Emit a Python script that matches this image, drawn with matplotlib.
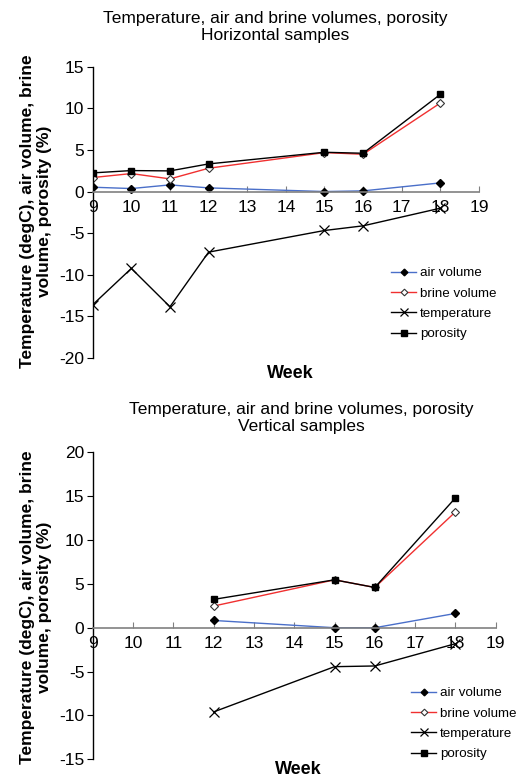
import matplotlib
matplotlib.use("Agg")
import matplotlib.pyplot as plt

plt.rcParams['font.family'] = ['Liberation Sans', 'DejaVu Sans']
plt.rcParams['axes.unicode_minus'] = False

# Horizontal samples
weeks_h = [9, 10, 11, 12, 15, 16, 18]
air_h = [0.52, 0.36, 0.8, 0.44, 0.0, 0.08, 1.04]
brine_h = [1.68, 2.16, 1.52, 2.8, 4.68, 4.48, 10.64]
temp_h = [-13.6, -9.24, -13.84, -7.28, -4.68, -4.12, -2.0]
poro_h = [2.24, 2.52, 2.48, 3.32, 4.72, 4.6, 11.68]

# Vertical samples
weeks_v = [12, 15, 16, 18]
air_v = [0.83, 0.0, 0.0, 1.63]
brine_v = [2.47, 5.46, 4.59, 13.2]
temp_v = [-9.6, -4.44, -4.36, -1.82]
poro_v = [3.23, 5.46, 4.59, 14.8]

xticks = list(range(9, 20))
yticks_h = [-20, -15, -10, -5, 0, 5, 10, 15]
yticks_v = [-15, -10, -5, 0, 5, 10, 15, 20]

title_l1 = "Temperature, air and brine volumes, porosity"
ylabel = "Temperature (degC), air volume, brine\nvolume, porosity (%)"

W, H = 521, 778
fig = plt.figure(figsize=(W / 100, H / 100), dpi=100)


def add_ax(x0, x1, ytop, ybot):
    return fig.add_axes([x0 / W, 1 - ybot / H, (x1 - x0) / W, (ybot - ytop) / H])


def draw(ax, weeks, air, brine, temp, poro, yticks, ylim):
    ax.plot(weeks, air, color='#4a6fc9', lw=1.0, marker='D', ms=4,
            mfc='black', mec='black', label='air volume')
    ax.plot(weeks, brine, color='#f03030', lw=1.0, marker='D', ms=4,
            mfc='white', mec='#333333', mew=0.8, label='brine volume')
    ax.plot(weeks, temp, color='black', lw=1.0, marker='x', ms=6.5, mew=0.9,
            label='temperature')
    ax.plot(weeks, poro, color='black', lw=1.0, marker='s', ms=5,
            mfc='black', label='porosity')
    ax.set_xlim(9, 19)
    ax.set_ylim(*ylim)
    ax.set_xticks(xticks)
    ax.set_yticks(yticks)
    ax.spines['top'].set_visible(False)
    ax.spines['right'].set_visible(False)
    ax.spines['bottom'].set_position(('data', 0))
    ax.spines['bottom'].set_color('#808080')
    ax.spines['bottom'].set_linewidth(1.2)
    ax.spines['left'].set_linewidth(1.0)
    ax.tick_params(axis='x', direction='in', length=4, color='#808080',
                   labelsize=12.5, pad=6)
    ax.tick_params(axis='y', direction='out', length=4, labelsize=12.5, pad=2)
    ax.patch.set_alpha(0)


leg_kw = dict(bbox_transform=fig.transFigure, frameon=False, fontsize=9.6,
              handlelength=1.9, handletextpad=0.25, labelspacing=0.6,
              borderpad=0, borderaxespad=0, markerscale=0.85, loc='upper left')

ax1 = add_ax(92.7, 479, 66.7, 358)
draw(ax1, weeks_h, air_h, brine_h, temp_h, poro_h, yticks_h, (-20, 15))
ax1.legend(bbox_to_anchor=(391 / W, 1 - 267 / H), **leg_kw)

ax2 = add_ax(92.7, 495.7, 452.3, 759.3)
draw(ax2, weeks_v, air_v, brine_v, temp_v, poro_v, yticks_v, (-15, 20))
ax2.legend(bbox_to_anchor=(411 / W, 1 - 687 / H), **leg_kw)

# Titles
fig.text(275 / W, 1 - 27 / H, title_l1 + "\nHorizontal samples", ha='center',
         va='center', fontsize=12.5, linespacing=1.2)
fig.text(301 / W, 1 - 418 / H, title_l1 + "\nVertical samples", ha='center',
         va='center', fontsize=12.5, linespacing=1.2)

# Y labels
fig.text(36 / W, 1 - 211 / H, ylabel, rotation=90, ha='center', va='center',
         fontsize=12.5, fontweight='bold', linespacing=1.15)
fig.text(36 / W, 1 - 607 / H, ylabel, rotation=90, ha='center', va='center',
         fontsize=12.5, fontweight='bold', linespacing=1.15)

# X labels
fig.text(290 / W, 1 - 373 / H, "Week", ha='center', va='center',
         fontsize=13, fontweight='bold')
fig.text(298 / W, 1 - 769 / H, "Week", ha='center', va='center',
         fontsize=13, fontweight='bold')

fig.savefig("out.png", dpi=100)
